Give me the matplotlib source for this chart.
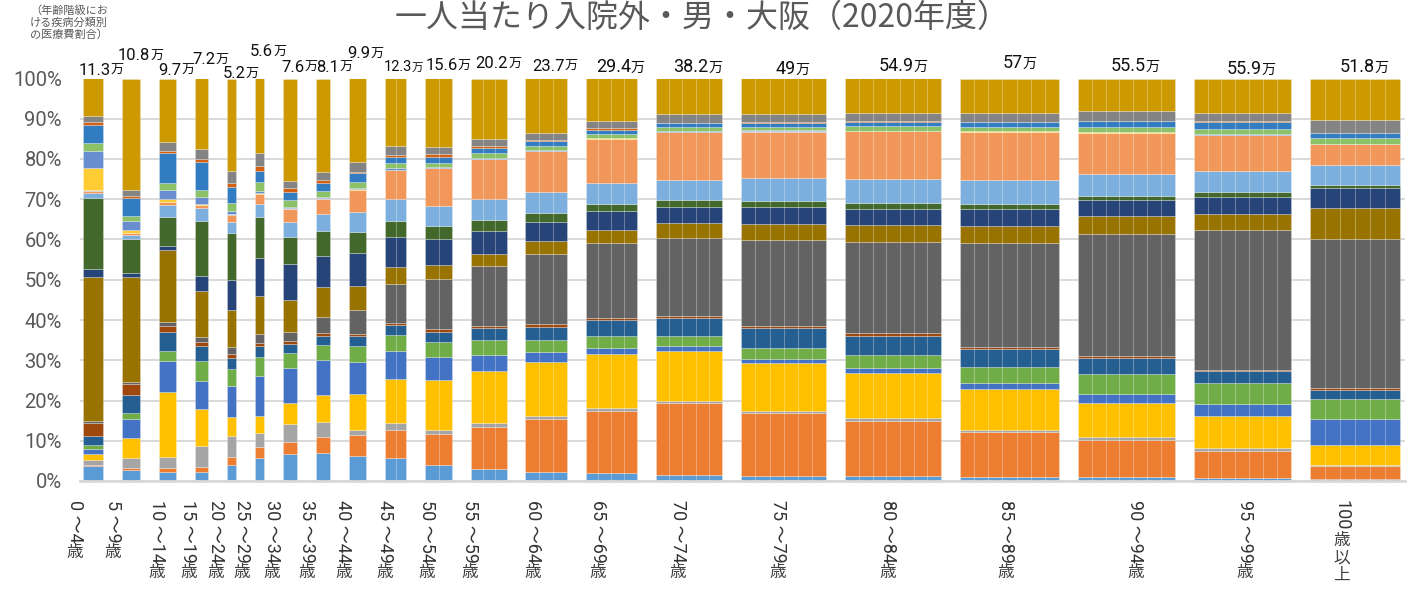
import matplotlib.pyplot as plt
from matplotlib.transforms import offset_copy

plt.rcParams['font.family'] = ['Roboto', 'Noto Sans CJK JP', 'DejaVu Sans']

# 年齢階級と一人当たり医療費（万円）
age_labels = ['0～4', '5～9', '10～14', '15～19', '20～24', '25～29', '30～34',
              '35～39', '40～44', '45～49', '50～54', '55～59', '60～64', '65～69',
              '70～74', '75～79', '80～84', '85～89', '90～94', '95～99', '100歳以上']
cost_man = [11.3, 10.8, 9.7, 7.2, 5.2, 5.6, 7.6, 8.1, 9.9, 12.3, 15.6, 20.2,
            23.7, 29.4, 38.2, 49, 54.9, 57, 55.5, 55.9, 51.8]

# 疾病分類（下から順）
disease = ['感染症', '新生物', '血液', '内分泌', '精神', '神経', '眼', '耳',
           '循環器', '呼吸器', '消化器', '皮膚', '筋骨格', '腎尿路', '妊娠',
           '周産期', '先天奇形', '症状', '損傷', '特殊目的', 'その他', '歯科等']

# 年齢階級ごとの割合（%）
a00 = [3.65, 0.4, 1.25, 1.5, 1.15, 0.9, 2.3, 3.2, 0.5, 35.8, 2.0, 17.7, 1.1, 0.6, 0.1, 5.45, 4.4, 1.8, 4.5, 0.7, 1.5, 9.4]
a05 = [2.8, 0.5, 2.3, 5.1, 4.6, 1.5, 4.6, 2.6, 0.5, 26.3, 1.0, 8.3, 1.1, 0.4, 0.1, 0.8, 2.1, 1.3, 4.6, 0.4, 1.5, 27.7]
a10 = [2.2, 1.0, 2.8, 16.2, 7.7, 2.4, 4.8, 1.5, 0.9, 17.9, 1.1, 7.2, 2.8, 0.7, 0.1, 0.7, 2.3, 1.8, 7.5, 0.5, 2.1, 15.8]
a15 = [2.2, 1.3, 5.2, 9.2, 6.9, 5.0, 3.8, 1.0, 1.2, 11.5, 3.7, 13.7, 3.2, 0.7, 0.1, 0.2, 1.7, 1.65, 7.1, 0.6, 2.6, 17.5]
a20 = [3.9, 2.1, 5.2, 4.7, 7.7, 4.3, 2.7, 1.1, 1.6, 9.2, 7.6, 11.7, 2.7, 1.75, 0.1, 0.1, 0.8, 2.0, 3.8, 1.2, 2.9, 23.0]
a25 = [5.6, 2.9, 3.4, 4.3, 10.0, 4.7, 2.7, 0.8, 2.15, 9.5, 9.5, 10.0, 3.3, 2.5, 0.1, 0.1, 0.5, 2.2, 2.9, 1.2, 3.3, 18.4]
a30 = [6.6, 3.2, 4.4, 5.1, 8.8, 3.8, 2.2, 0.7, 2.1, 8.0, 8.9, 6.9, 3.6, 3.3, 0.1, 0.1, 0.3, 1.65, 2.1, 0.8, 1.9, 25.4]
a35 = [7.0, 3.9, 3.7, 6.8, 8.5, 3.9, 2.2, 0.7, 4.0, 7.3, 7.9, 6.1, 4.1, 3.9, 0.1, 0.1, 0.3, 1.4, 2.0, 0.65, 2.0, 23.25]
a40 = [6.2, 5.3, 1.1, 9.1, 8.0, 3.9, 2.4, 0.6, 6.1, 5.8, 8.4, 5.0, 5.0, 5.6, 0.1, 0.1, 0.4, 1.4, 2.1, 0.45, 2.3, 20.9]
a45 = [5.8, 6.9, 1.6, 11.1, 6.9, 3.9, 2.6, 0.5, 9.6, 4.3, 7.5, 4.0, 5.3, 7.2, 0.05, 0.05, 0.4, 1.25, 1.7, 0.4, 2.1, 16.9]
a50 = [4.1, 7.6, 1.0, 12.5, 5.6, 3.7, 2.5, 0.7, 12.6, 3.5, 6.4, 3.1, 5.2, 9.3, 0.05, 0.05, 0.2, 1.1, 1.5, 0.5, 1.9, 17.0]
a55 = [3.0, 10.4, 1.1, 12.8, 4.0, 3.7, 2.9, 0.5, 15.0, 3.0, 5.6, 2.7, 5.2, 10.0, 0.05, 0.05, 0.2, 1.1, 1.4, 0.4, 1.8, 15.0]
a60 = [2.3, 13.0, 0.9, 13.4, 2.6, 2.9, 3.3, 0.6, 17.5, 3.15, 4.8, 2.1, 5.4, 10.0, 0.05, 0.05, 0.2, 1.0, 1.2, 0.3, 1.9, 13.45]
a65 = [1.9, 15.6, 0.7, 13.4, 1.6, 2.8, 4.1, 0.5, 18.7, 3.2, 4.6, 1.7, 5.3, 11.0, 0.05, 0.05, 0.2, 1.0, 1.0, 0.3, 1.9, 10.5]
a70 = [1.5, 17.8, 0.7, 12.3, 1.2, 2.5, 4.6, 0.4, 19.6, 3.6, 4.1, 1.6, 5.0, 11.9, 0.05, 0.05, 0.2, 1.0, 0.9, 0.2, 2.1, 8.9]
a75 = [1.2, 15.6, 0.7, 11.9, 1.0, 2.7, 4.9, 0.6, 21.4, 3.9, 4.1, 1.5, 5.8, 11.5, 0.05, 0.05, 0.2, 0.9, 1.0, 0.2, 1.9, 8.9]
a80 = [1.25, 13.7, 0.75, 11.25, 1.25, 3.2, 4.8, 0.7, 22.7, 4.1, 4.15, 1.3, 6.1, 11.8, 0.05, 0.05, 0.1, 1.1, 1.1, 0.15, 2.1, 8.55]
a85 = [1.1, 11.1, 0.6, 10.1, 1.5, 4.0, 4.4, 0.6, 25.9, 4.4, 4.0, 1.25, 6.0, 12.1, 0.05, 0.05, 0.1, 1.0, 1.2, 0.1, 2.3, 8.5]
a90 = [0.9, 9.3, 0.7, 8.6, 2.2, 4.9, 4.1, 0.4, 30.3, 4.6, 3.9, 1.15, 5.3, 10.4, 0.05, 0.05, 0.1, 1.1, 1.6, 0.1, 2.4, 8.1]
a95 = [0.75, 6.8, 0.6, 7.9, 3.0, 5.25, 2.9, 0.4, 34.5, 4.15, 4.15, 1.1, 5.4, 8.8, 0.05, 0.05, 0.1, 1.2, 1.8, 0.25, 2.0, 8.55]
a100 = [0.6, 3.2, 0.3, 4.9, 6.4, 4.9, 2.3, 0.4, 37.2, 7.7, 5.0, 0.65, 4.9, 5.2, 0.05, 0.05, 0.1, 1.4, 1.2, 0.1, 3.3, 10.2]
shares = [a00, a05, a10, a15, a20, a25, a30, a35, a40, a45, a50, a55, a60,
          a65, a70, a75, a80, a85, a90, a95, a100]

colors = ['#5B9BD5', '#ED7D31', '#A5A5A5', '#FFC000', '#4472C4', '#70AD47',
          '#255E91', '#9E480E', '#636363', '#997300', '#264478', '#43682B',
          '#7CAFDD', '#F1975A', '#B7B7B7', '#FFCD33', '#698ED0', '#8CC168',
          '#327DC2', '#D26012', '#848484', '#CC9A00']

# レイアウト
gap = 10.9  # 棒の間隔（万円単位）
lab_dy = [8, 22.5, 8, 18.5, 4.5, 26.5, 11.5, 11, 24.5, 11.5, 12.5, 14.5, 12, 12,
          11.5, 10, 12.5, 15.5, 12.5, 9.5, 12]  # 上のラベルの高さ(px)
lab_dx = [2, 3, 2, 2, 3, 2, 3, 5, 2, 2, 3, 3, 2, 2, 2, 2, 3, 3, 2, 2, 2]
lab_size = [12] * 9 + [10.5] + [12] * 3 + [13] * 8
tick_dx = [-18, -18, -11, -13, -15, -18, -18, -16, -14, -11, -12, -19, -13, -13,
           -11, -6, -5, -4, 9, 3, -13]  # 下のラベルのずれ(px)

W, H = 1409, 589
fig = plt.figure(figsize=(W / 100, H / 100), dpi=100)
ax = fig.add_axes([80 / W, 1 - 481 / H, (1405 - 80) / W, (481 - 78.5) / H])

lefts = []
x = 0
for w in cost_man:
    lefts.append(x)
    x += w + gap
total = x - gap
ax.set_xlim(-3 / 1.74, total + 5 / 1.74)
ax.set_ylim(0, 100)

bottoms = [0] * len(shares)
for k in range(len(disease)):
    h = [row[k] / sum(row) * 100 for row in shares]
    ax.bar(lefts, h, width=cost_man, bottom=bottoms, align='edge',
           color=colors[k], edgecolor=(1, 1, 1, 0.45), linewidth=0.4, zorder=2)
    bottoms = [b + v for b, v in zip(bottoms, h)]

# 棒の中の細い縦線
for l, w in zip(lefts, cost_man):
    n = max(1, round(w / 8))
    for j in range(1, n):
        ax.vlines(l + w * j / n, 0, 100, color='white', alpha=0.3, lw=0.8, zorder=3)

ax.set_yticks(range(0, 101, 10))
ax.set_yticklabels([f'{v}%' for v in range(0, 101, 10)], fontsize=14.5, color='#595959')
ax.tick_params(axis='y', length=0, pad=13)
ax.set_xticks([])
ax.yaxis.grid(True, color='#D9D9D9', lw=1.4)
ax.set_axisbelow(True)
for s in ['left', 'right', 'top']:
    ax.spines[s].set_visible(False)
ax.spines['bottom'].set_color('#D9D9D9')
ax.spines['bottom'].set_linewidth(2)

# 金額ラベル
for i, (l, w) in enumerate(zip(lefts, cost_man)):
    t = ax.annotate(f'{w:g}', xy=(l + w / 2, 100),
                    xytext=(lab_dx[i] * 0.72, lab_dy[i] * 0.72),
                    textcoords='offset points', ha='center', va='center',
                    fontsize=lab_size[i], color='#111111')
    ax.annotate('万', xy=(1, 0.05), xycoords=t, ha='left', va='bottom',
                fontsize=lab_size[i] * 0.78, color='#111111',
                family=['Noto Sans CJK JP'])

# 年齢ラベル（縦書き）
for i, (l, w) in enumerate(zip(lefts, cost_man)):
    lab = age_labels[i]
    if lab.endswith('歳以上'):
        num, rest = lab[:-3], '歳\n以\n上'
    else:
        num, rest = lab.replace('～', ' ～'), '歳'
    tr = offset_copy(ax.get_xaxis_transform(), fig=fig, x=tick_dx[i] * 0.72,
                     y=-19 * 0.72, units='points')
    t = ax.text(l + w / 2, 0, num, transform=tr, rotation=270, ha='center',
                va='top', fontsize=13, color='#333333')
    ax.annotate(rest, xy=(0.5, 0), xycoords=t, xytext=(0, -1),
                textcoords='offset points', ha='center', va='top',
                fontsize=12, color='#404040', linespacing=1.05,
                family=['Noto Sans CJK JP'])

fig.text(702 / W, 1 - 18 / H, '一人当たり入院外・男・大阪（2020年度）',
         ha='center', va='center', fontsize=23, color='#595959',
         family=['Noto Sans CJK JP'])
fig.text(30 / W, 1 - 5 / H, '（年齢階級にお\nける疾病分類別\nの医療費割合）',
         ha='left', va='top', fontsize=8, color='#595959', linespacing=1.2,
         family=['Noto Sans CJK JP'])

fig.savefig('out.png', dpi=100)
